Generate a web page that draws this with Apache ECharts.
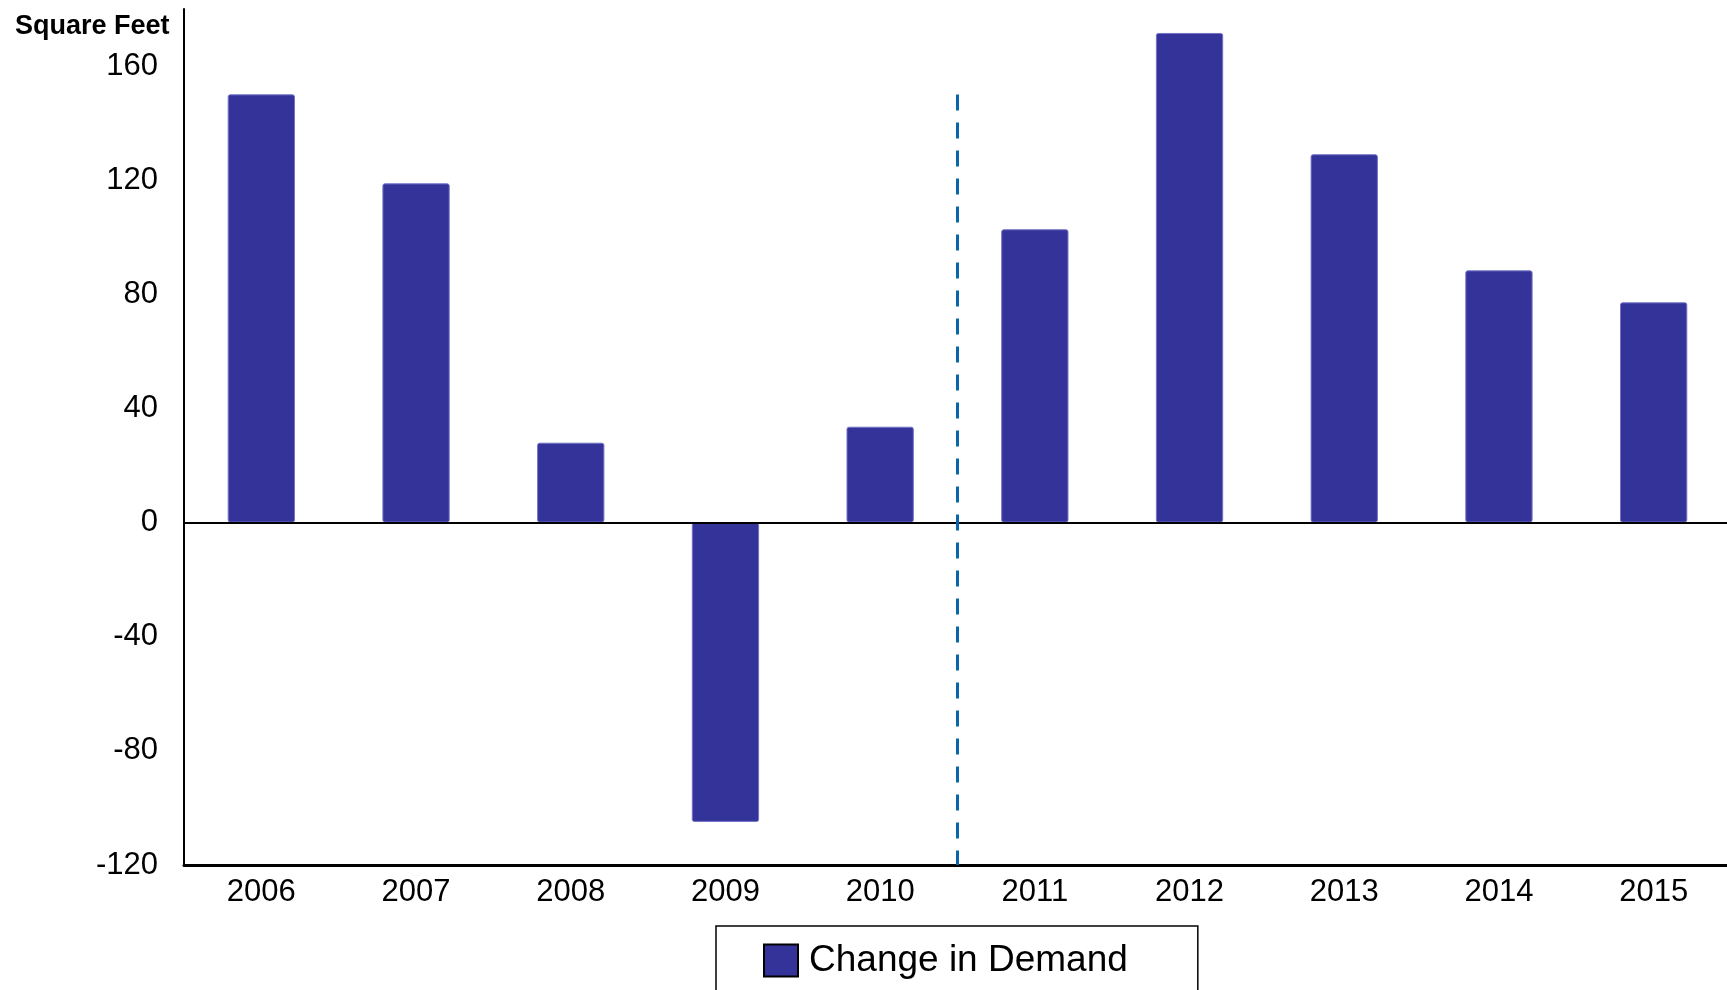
<!DOCTYPE html>
<html>
<head>
<meta charset="utf-8">
<title>Change in Demand</title>
<script src="https://cdn.jsdelivr.net/npm/echarts@6/dist/echarts.min.js"></script>
<style>
  html, body { margin: 0; padding: 0; background: #ffffff; }
  #chart { width: 1727px; height: 990px; }
</style>
</head>
<body>
<div id="chart"></div>
<script>
// Yearly change in demand, square feet
const years = ['2006', '2007', '2008', '2009', '2010', '2011', '2012', '2013', '2014', '2015'];
const changeInDemand = [150.1, 118.9, 28.0, -104.9, 33.6, 102.8, 171.6, 129.1, 88.4, 77.2];

// Value-axis range and tick step
const yMin = -120;
const yMax = 180;
const yStep = 40;

// Divider between actuals (through 2010) and forecast (2011 on), in category units
const forecastBoundary = 5;
const dividerTop = 150;

const FONT = '"Liberation Sans", Arial, Helvetica, sans-serif';

const chart = echarts.init(document.getElementById('chart'), null, { renderer: 'canvas' });

chart.setOption({
  animation: false,
  backgroundColor: '#ffffff',
  title: {
    text: 'Square Feet',
    left: 15,
    top: 13,
    padding: 0,
    textStyle: { fontFamily: FONT, fontSize: 27, fontWeight: 'bold', color: '#000000' }
  },
  legend: {
    data: ['Change in Demand'],
    left: 716,
    top: 926,
    padding: [16, 70, 40, 47],
    borderColor: '#000000',
    borderWidth: 1.5,
    itemWidth: 34,
    itemHeight: 32,
    icon: 'rect',
    itemStyle: { borderColor: '#000000', borderWidth: 2 },
    textStyle: { fontFamily: FONT, fontSize: 37, color: '#000000', lineHeight: 32, padding: [0, 0, 0, 6] }
  },
  grid: {
    left: 184,
    top: 9,
    width: 1547,
    height: 856,
    containLabel: false,
    outerBoundsMode: 'none'
  },
  xAxis: [
    {
      type: 'category',
      data: years,
      position: 'bottom',
      axisLine: { onZero: false, lineStyle: { color: '#000000', width: 3 } },
      axisTick: { show: false },
      axisLabel: { fontFamily: FONT, fontSize: 31, color: '#000000', margin: 12 },
      splitLine: { show: false }
    },
    {
      // helper axis spanning the category band, used to place the divider
      type: 'value',
      min: 0,
      max: years.length,
      show: false
    }
  ],
  yAxis: {
    type: 'value',
    min: yMin,
    max: yMax,
    interval: yStep,
    axisLine: { show: true, lineStyle: { color: '#000000', width: 2 } },
    axisTick: { show: false },
    splitLine: { show: false },
    axisLabel: {
      fontFamily: FONT,
      fontSize: 31,
      color: '#000000',
      margin: 26,
      showMaxLabel: false
    }
  },
  series: [
    {
      name: 'Change in Demand',
      type: 'bar',
      data: changeInDemand,
      barWidth: '43.5%',
      itemStyle: {
        color: '#333399',
        borderColor: '#7373c8',
        borderWidth: 1,
        borderRadius: 2
      },
      markLine: {
        silent: true,
        symbol: ['none', 'none'],
        label: { show: false },
        lineStyle: { color: '#000000', width: 2, type: 'solid' },
        data: [{ yAxis: 0 }]
      },
      z: 2
    },
    {
      name: 'divider',
      type: 'line',
      xAxisIndex: 1,
      yAxisIndex: 0,
      data: [],
      markLine: {
        silent: true,
        symbol: ['none', 'none'],
        label: { show: false },
        lineStyle: { color: '#0867a8', width: 3, type: [16, 12] },
        data: [[
          { coord: [forecastBoundary, dividerTop] },
          { coord: [forecastBoundary, yMin] }
        ]]
      },
      z: 3
    }
  ]
});
</script>
</body>
</html>
